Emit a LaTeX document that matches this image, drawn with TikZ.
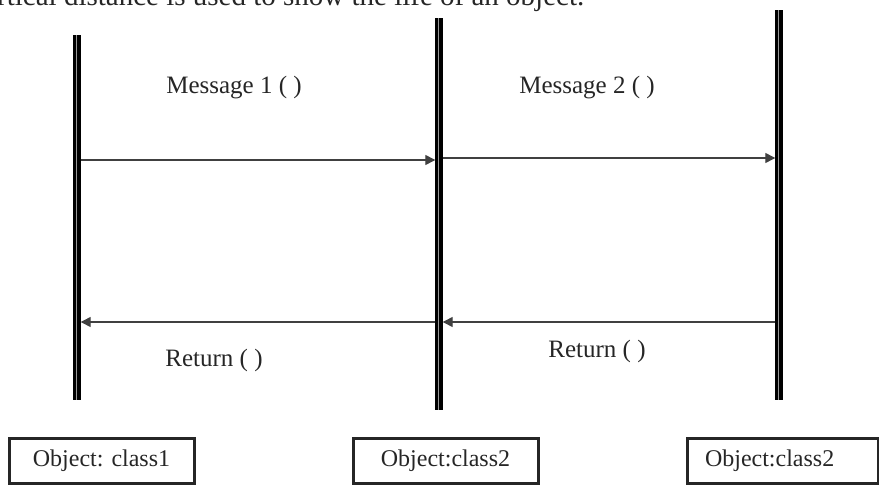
\documentclass[tikz,border=0pt]{standalone}
\usepackage{fontspec}
\setmainfont{Liberation Serif}
\usetikzlibrary{arrows.meta}
\begin{document}
\begin{tikzpicture}[x=1pt,y=-1pt,
 lifeline/.style={line width=7.5pt,black},
 stripe/.style={line width=0.9pt,black!40},
 msg/.style={line width=1.3pt,draw=black!75,-{Triangle[length=10pt,width=10pt]},shorten <=3.7pt,shorten >=3.7pt},
 lbl/.style={font=\fontsize{25}{27}\selectfont,text=black!85,inner sep=0pt},
 objbox/.style={draw=black!85,line width=3pt,minimum height=45pt,inner sep=0pt,font=\fontsize{24}{26}\selectfont,text=black!85}]
\useasboundingbox (0,0) rectangle (879,485);
\clip (0,0) rectangle (879,485);
% cut-off caption at the top
\node[lbl,font=\fontsize{29}{31}\selectfont,anchor=base west] (cap) at (-3,5) {rtical distance is used to show the life of an object.};
% lifelines
\coordinate (l1t) at (77,35);  \coordinate (l1b) at (77,400);
\coordinate (l2t) at (439,18); \coordinate (l2b) at (439,410);
\coordinate (l3t) at (779,10); \coordinate (l3b) at (779,400);
\draw[lifeline] (l1t) -- (l1b);
\draw[lifeline] (l2t) -- (l2b);
\draw[lifeline] (l3t) -- (l3b);
\draw[stripe] ([xshift=-0.8pt]l1t) -- ([xshift=-0.8pt]l1b);
\draw[stripe] ([xshift=-0.8pt]l2t) -- ([xshift=-0.8pt]l2b);
\draw[stripe] ([xshift=-0.8pt]l3t) -- ([xshift=-0.8pt]l3b);
% message anchors
\coordinate (m1a) at (77,160);  \coordinate (m1b) at (439,160);
\coordinate (m2a) at (439,158); \coordinate (m2b) at (779,158);
\coordinate (r1a) at (439,322); \coordinate (r1b) at (77,322);
\coordinate (r2a) at (779,322); \coordinate (r2b) at (439,322);
\draw[msg] (m1a) -- (m1b);
\draw[msg] (m2a) -- (m2b);
\draw[msg] (r1a) -- (r1b);
\draw[msg] (r2a) -- (r2b);
% labels
\node[lbl] (t1) at (234,88) {Message 1 ( )};
\node[lbl] (t2) at (587,88) {Message 2 ( )};
\node[lbl] (t3) at (214,360) {Return ( )};
\node[lbl] (t4) at (597,351) {Return ( )};
% object boxes
\node[objbox,minimum width=185pt] (o1) at (101.5,460.5) {Object: class1};
\node[objbox,minimum width=185pt] (o2) at (445.5,460.5) {Object:class2};
\node[objbox,minimum width=191pt,text width=191pt,align=left] (o3) at (782.5,460.5) {\hspace*{18pt}Object:class2};
\end{tikzpicture}
\end{document}
